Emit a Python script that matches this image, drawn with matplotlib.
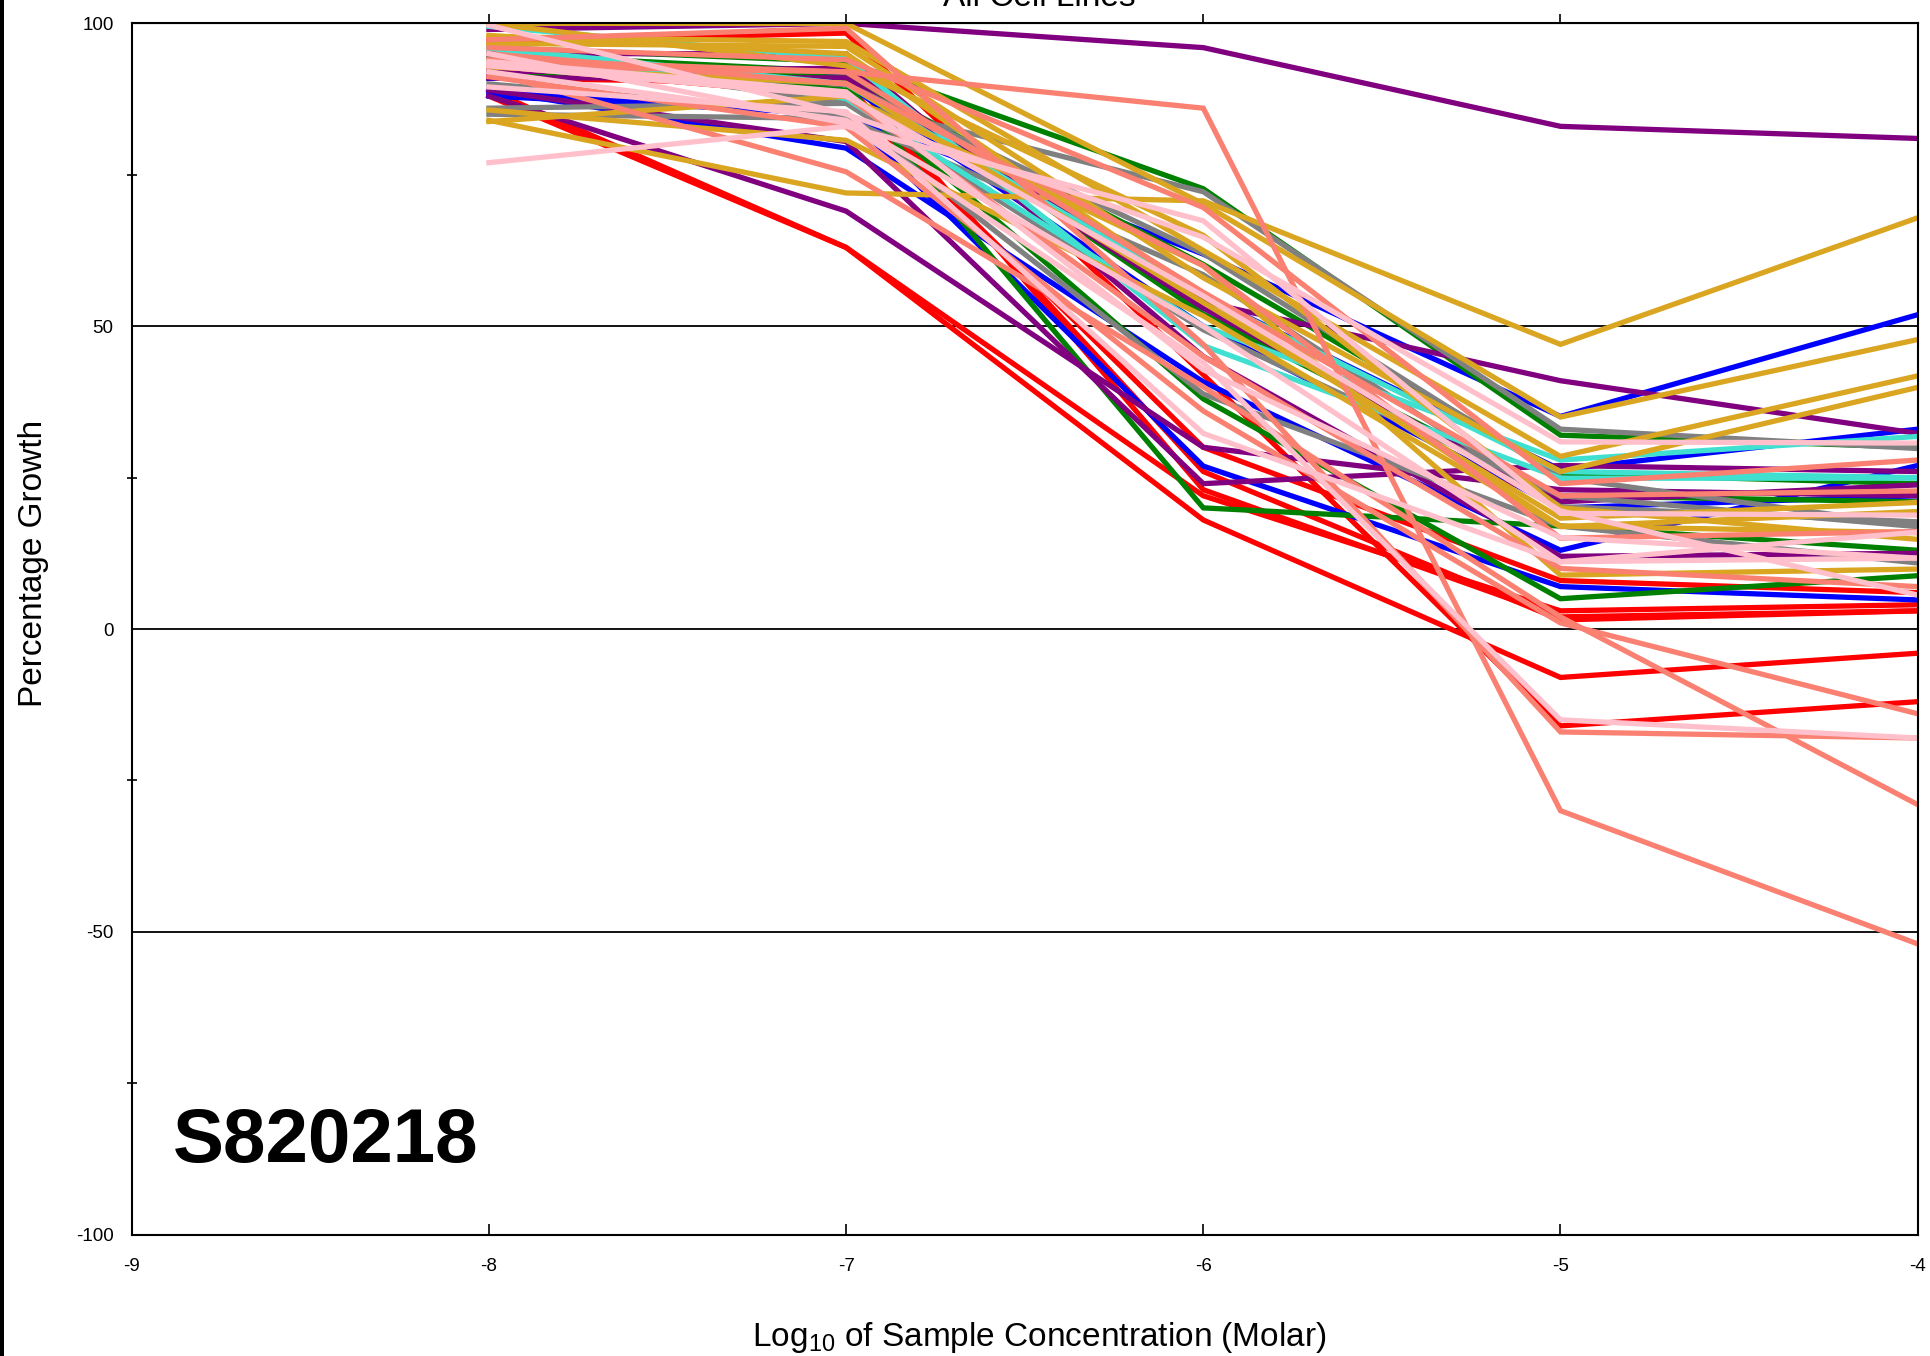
import matplotlib

matplotlib.use("Agg")
import matplotlib.pyplot as plt
from matplotlib.patches import Rectangle

plt.rcParams["font.family"] = ["Liberation Sans", "DejaVu Sans"]
plt.rcParams["axes.unicode_minus"] = False
plt.rcParams["mathtext.fontset"] = "custom"
plt.rcParams["mathtext.rm"] = "Liberation Sans"

# Concentrations (log10 molar)
CONC = [-8, -7, -6, -5, -4]

# Percentage growth per cell line, grouped by panel colour
RED_LINES = [
    [89, 63, 18, -8, -4],
    [88, 63, 22, 3, 4],
    [97, 98.4, 42, -16, -12],
    [92, 92, 23, 2, 3],
    [93, 88, 30, 8, 6],
    [91, 90, 26, 1.5, 3],
]
BLUE_LINES = [
    [88.7, 84.9, 61.9, 35.1, 51.9],
    [90.9, 92, 55.1, 26.3, 33],
    [89, 79.4, 40.8, 13, 27],
    [88, 85, 26.9, 7, 4.8],
    [92, 90, 50, 20, 22],
]
GREEN_LINES = [
    [96, 93.7, 72.7, 32, 30],
    [94, 91, 60.2, 25.7, 24],
    [92, 90, 20, 17, 13],
    [93, 89, 38, 5, 8.8],
    [95, 92, 52, 22, 21],
]
PURPLE_LINES = [
    [99, 100, 96, 83, 81],
    [88, 69, 30, 23, 22],
    [89, 80.5, 24, 27, 26],
    [95, 95, 45, 12, 12.5],
    [91, 91, 53, 21, 23.8],
    [92, 92.6, 54, 41, 32.3],
]
GRAY_LINES = [
    [94.8, 87, 72.2, 33, 29.8],
    [85, 84.3, 58.5, 20.2, 17.7],
    [86, 86.8, 49.4, 22, 16.9],
    [90, 85, 38.8, 17, 10.9],
    [93, 90, 62, 25, 17],
]
TURQUOISE_LINES = [
    [99.5, 94.2, 46.8, 24.9, 24.9],
    [95.9, 87.6, 50, 27.9, 31.8],
    [96, 90, 55, 26, 25],
]
GOLD_LINES = [
    [84, 72, 70.7, 47, 67.9],
    [100, 100, 70.2, 35, 47.8],
    [97.8, 97, 62.5, 28.5, 41.8],
    [96.7, 96.2, 58, 26, 39.9],
    [92.8, 90.1, 53.9, 18.3, 20.9],
    [85.7, 80.7, 51.7, 16.9, 19.4],
    [83.8, 88, 60, 8.9, 9.9],
    [100, 93, 65, 20, 14.8],
    [98, 95, 55, 17, 15.9],
]
SALMON_LINES = [
    [93, 92, 86, -30, -52],
    [97.3, 99.2, 47, -17, -18],
    [91.2, 82.9, 36, 1, -14],
    [92, 75.5, 40, 2, -29],
    [94, 92, 55.6, 22, 22.8],
    [95, 90, 60, 15, 16.1],
    [93, 88, 45, 10, 7],
    [96, 94, 69.6, 24, 27.9],
]
PINK_LINES = [
    [99.7, 85, 64.7, 30.9, 30.7],
    [77, 83, 67.4, 19.1, 18.8],
    [93.7, 88.7, 42.8, 15.1, 11.7],
    [89.5, 85.4, 32.3, 11.1, 16],
    [95, 83.5, 44, -15, -18],
    [93, 88, 55, 19.5, 5.6],
    [92, 84, 50, 11.1, 11.7],
]

PANELS = [
    (RED_LINES, "#FF0000"),
    (BLUE_LINES, "#0000FF"),
    (GREEN_LINES, "#008000"),
    (PURPLE_LINES, "#800080"),
    (GRAY_LINES, "#808080"),
    (TURQUOISE_LINES, "#40E0D0"),
    (GOLD_LINES, "#DAA520"),
    (SALMON_LINES, "#FA8072"),
    (PINK_LINES, "#FFC0CB"),
]

X_TICKS = [-9, -8, -7, -6, -5, -4]
Y_TICKS = [100, 50, 0, -50, -100]
Y_MINOR = [75, 25, -25, -75]

W, H = 1930, 1356


def main():
    fig = plt.figure(figsize=(W / 100, H / 100), dpi=100)
    ax = fig.add_axes([131.7 / W, 1 - 1234.6 / H, (1917.7 - 131.7) / W, (1234.6 - 23.4) / H])

    for y in (50, 0, -50):
        ax.axhline(y, color="black", lw=1.3, zorder=1)

    for lines, color in PANELS:
        for vals in lines:
            ax.plot(CONC, vals, color=color, lw=3.8, solid_joinstyle="miter", zorder=2)

    ax.set_xlim(-9, -4)
    ax.set_ylim(-100, 100)
    for sp in ax.spines.values():
        sp.set_linewidth(1.5)
        sp.set_zorder(3)

    ax.set_xticks(X_TICKS)
    ax.set_xticklabels([str(t) for t in X_TICKS])
    ax.set_yticks(Y_TICKS)
    ax.set_yticklabels([str(t) for t in Y_TICKS])
    ax.set_yticks(Y_MINOR, minor=True)
    ax.tick_params(axis="x", direction="in", length=8, width=1.2, pad=17, labelsize=13.5)
    ax.tick_params(axis="y", which="major", length=0, pad=13, labelsize=13.5)
    ax.tick_params(axis="y", which="minor", direction="inout", length=7, width=1.2)

    top = ax.secondary_xaxis("top")
    top.set_xticks([-8, -7, -6, -5])
    top.tick_params(direction="out", length=6.5, width=1.2, labeltop=False)

    # title sits mostly above the figure edge, as in the original export
    fig.text(1039 / W, 1 - 6.5 / H, "All Cell Lines", ha="center", va="baseline", fontsize=24)
    fig.text(1039 / W, 1 - 1346 / H, r"Log$_{\mathrm{10}}$ of Sample Concentration (Molar)",
             ha="center", va="baseline", fontsize=24)
    fig.text(34 / W, 1 - 563 / H, "Percentage Growth", rotation=90,
             ha="center", va="center", fontsize=24)
    fig.text(173 / W, 1 - 1162 / H, "S820218", ha="left", va="baseline",
             fontsize=55, fontweight="bold")

    fig.patches.append(Rectangle((0, 0), 3.5 / W, 1, transform=fig.transFigure,
                                 facecolor="black", edgecolor="none"))

    fig.savefig("out.png", dpi=100)


if __name__ == "__main__":
    main()
